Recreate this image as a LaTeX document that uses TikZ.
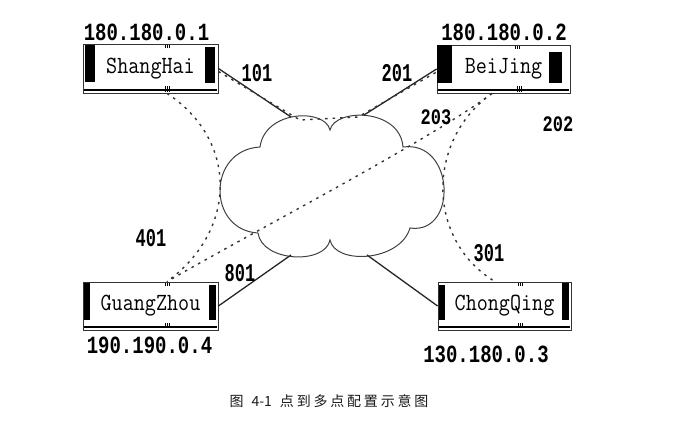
\documentclass[tikz,border=0pt]{standalone}
\usepackage{graphicx}
\usepackage{fontspec}
\newfontfamily\libmono{Liberation Mono}
\newfontfamily\cjk{Noto Sans CJK SC}
\newcommand\cjkgap{\hspace{2.8pt}}
\newcommand\tallt[2]{\scalebox{1}[#1]{#2}}
\begin{document}
\begin{tikzpicture}[x=1pt,y=-1pt,
  box/.style={draw=black!80, line width=0.8pt, minimum width=135pt, minimum height=48pt, inner sep=0pt,
    font=\ttfamily\fontsize{21.5}{21.5}\selectfont},
  ip/.style={inner sep=0pt, font=\libmono\bfseries\fontsize{19}{19}\selectfont},
  lbl/.style={inner sep=0pt, font=\libmono\bfseries\fontsize{17}{17}\selectfont},
  link/.style={line width=1.3pt, black!85},
  pvc/.style={line width=1.4pt, black!80, dash pattern=on 2.5pt off 5pt},
  cloudline/.style={line width=1pt, black!75},
  tick/.style={line width=0.7pt}
]
\useasboundingbox (0,0) rectangle (694,423);

% cloud
\draw[cloudline] (258,233) .. controls (207,230) and (207,150) .. (260,147)
  .. controls (265,110) and (325,108) .. (330,130)
  .. controls (335,108) and (400,108) .. (403,147)
  .. controls (455,140) and (458,235) .. (410,228)
  .. controls (400,262) and (335,265) .. (330,240)
  .. controls (325,265) and (262,262) .. (258,233) -- cycle;
\coordinate (csh) at (291,117);
\coordinate (cbj) at (364,115);
\coordinate (cgz) at (291,255);
\coordinate (ccq) at (367,255);
\coordinate (tsh) at (300,120);
\coordinate (tbj) at (358,117);

% boxes
\node[box, minimum height=49pt] (sh) at (150.5,68.5) {\tallt{1.15}{ShangHai}};
\node[box, minimum width=133pt] (bj) at (503.5,69) {\tallt{1.15}{BeiJing}};
\node[box] (gz) at (150.5,306) {\tallt{1.15}{GuangZhou}};
\node[box, minimum width=133pt] (cq) at (504.5,306) {\tallt{1.15}{ChongQing}};

% box decorations
\fill (85,45) rectangle (95,82);
\fill (205,47) rectangle (215,83);
\draw[line width=2.5pt] (84,90) -- (217,90);
\fill (437,45) rectangle (452,83);
\fill (549,52) rectangle (562,83);
\draw[line width=2.5pt] (438,90) -- (569,90);
\fill (84,283) rectangle (90,320);
\fill (209,285) rectangle (216,320);
\draw[line width=1.5pt] (84,327) -- (217,327);
\fill (439,285) rectangle (445,320);
\fill (562,283) rectangle (569,320);
\draw[line width=1.5pt] (439,327) -- (570,327);
\foreach \x/\y/\h in {167/45/3, 167/86/6, 517/46/3, 519/86/6, 167/283/3, 167/323/5, 520/283/3, 520/323/5}{
  \foreach \d in {-2,0,2}{\draw[tick] (\x+\d,\y) -- ++(0,\h);}
}

% IP labels
\node[ip] (ip1) at (146.5,32.5) {\tallt{1.3}{180.180.0.1}};
\node[ip] (ip2) at (504,32.5) {\tallt{1.3}{180.180.0.2}};
\node[ip] (ip4) at (149.5,345.5) {\tallt{1.3}{190.190.0.4}};
\node[ip] (ip3) at (486,354.5) {\tallt{1.3}{130.180.0.3}};

% links
\draw[link] (sh.east) -- (csh);
\draw[link] (bj.west) -- (cbj);
\draw[link] (gz.east) -- (cgz);
\draw[link] (cq.west) -- (ccq);

% PVCs
\draw[pvc] ([yshift=-3pt]sh.east) -- (tsh) -- (tbj) -- ([yshift=-3pt]bj.west);
\draw[pvc] ([xshift=16.5pt]sh.south) .. controls (238,140) and (238,230) .. ([xshift=16.5pt]gz.north);
\draw[pvc] ([xshift=-11.5pt]bj.south) .. controls (426,140) and (426,240) .. ([xshift=-9.5pt]cq.north);
\draw[pvc] ([xshift=-11.5pt]bj.south) .. controls (430,140) and (260,228) .. ([xshift=16.5pt]gz.north);

% DLCI labels
\node[lbl] (l101) at (257,73) {\tallt{1.5}{101}};
\node[lbl] (l201) at (397,73) {\tallt{1.5}{201}};
\node[lbl] (l203) at (436,117) {\tallt{1.3}{203}};
\node[lbl] (l202) at (558,124) {\tallt{1.3}{202}};
\node[lbl] (l401) at (151,238) {\tallt{1.5}{401}};
\node[lbl] (l801) at (240,273) {\tallt{1.5}{801}};
\node[lbl] (l301) at (489,253) {\tallt{1.5}{301}};

% caption
\node[inner sep=0pt, text=black!90, font=\cjk\fontsize{14}{14}\selectfont] (cap) at (329,401.5)
  {图\hspace{8pt}4-1\hspace{8pt}点\cjkgap 到\cjkgap 多\cjkgap 点\cjkgap 配\cjkgap 置\cjkgap 示\cjkgap 意\cjkgap 图};
\end{tikzpicture}
\end{document}
